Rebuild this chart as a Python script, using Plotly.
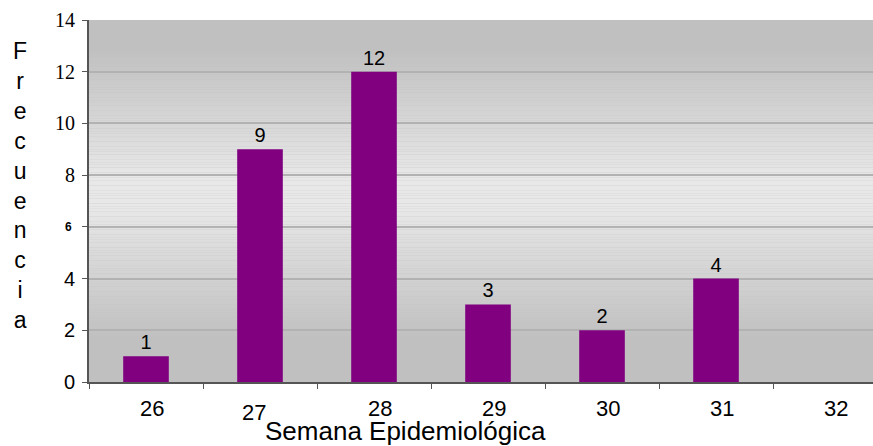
import plotly.graph_objects as go

weeks = ["26", "27", "28", "29", "30", "31", "32"]
counts = [1, 9, 12, 3, 2, 4, None]
y_ticks = [0, 2, 4, 6, 8, 10, 12, 14]
x_title = "Semana Epidemiológica"
y_title = "Frecuencia"

fig = go.Figure()
fig.add_trace(go.Bar(
    x=weeks, y=counts, width=0.40,
    marker=dict(color="#800080", line=dict(width=0)),
    text=[("" if v is None else str(v)) for v in counts],
    textposition="outside", cliponaxis=False,
    textfont=dict(family="Liberation Sans, Arial", size=20, color="#000000"),
    hoverinfo="skip",
))

# background gradient bands (styling only)
shapes = []
n = 140
for i in range(n):
    v0 = 14 * i / n
    v1 = 14 * (i + 1) / n
    vm = (v0 + v1) / 2
    d = abs(vm - 7.3) / 7.0
    f = min(1.0, max(0.0, (d - 0.08) / 0.72))
    g = int(round(232 - 40 * f))
    shapes.append(dict(type="rect", xref="paper", yref="y", x0=0, x1=1, y0=v0, y1=v1,
                       fillcolor=f"rgb({g},{g},{g})", line=dict(width=0), layer="below"))

annotations = []
# y tick labels with mixed fonts as in the original
for v in y_ticks:
    if v >= 8:
        fnt = dict(family="Liberation Serif, Times New Roman", size=20, color="#000")
        xs = -12
    elif v == 6:
        fnt = dict(family="Liberation Sans, Arial", size=12, color="#000", weight="bold")
        xs = -15
    else:
        fnt = dict(family="Liberation Sans, Arial", size=20, color="#000")
        xs = -12
    annotations.append(dict(x=0, xref="paper", y=v, yref="y", text=str(v), showarrow=False,
                            xanchor="right", yanchor="middle", xshift=xs, font=fnt))
# x tick labels (placed at category index on the category axis)
for i, w in enumerate(weeks):
    annotations.append(dict(x=i, xref="x", y=0, yref="paper", text=w, showarrow=False,
                            xanchor="center", yanchor="top",
                            xshift=(-6 if w == "27" else 6),
                            yshift=(-16 if w == "27" else -12),
                            font=dict(family="Liberation Sans, Arial", size=22, color="#000")))
# axis titles
annotations.append(dict(x=(405 - 89) / 784, xref="paper", y=0, yref="paper", text=x_title,
                        showarrow=False, xanchor="center", yanchor="top", yshift=-32,
                        font=dict(family="Liberation Sans, Arial", size=26, color="#000")))
annotations.append(dict(x=(20 - 89) / 784, xref="paper", y=(382 - 185) / 362, yref="paper",
                        text="<br>".join(list(y_title)), showarrow=False,
                        xanchor="center", yanchor="middle",
                        font=dict(family="Liberation Sans, Arial", size=23, color="#000")))

fig.update_layout(
    width=873, height=446,
    margin=dict(l=89, r=0, t=20, b=64),
    paper_bgcolor="white", plot_bgcolor="#c0c0c0",
    showlegend=False, bargap=0.6,
    shapes=shapes, annotations=annotations,
)
fig.update_xaxes(type="category", range=[-0.5, 6.377], showticklabels=False,
                 ticks="outside", tickson="boundaries", ticklen=5, tickcolor="#555",
                 showline=True, linecolor="#555", linewidth=1.5, showgrid=False,
                 fixedrange=True)
fig.update_yaxes(range=[0, 14], tickvals=y_ticks, showticklabels=False,
                 ticks="outside", ticklen=5, tickcolor="#555",
                 showline=True, linecolor="#555", linewidth=1.5,
                 showgrid=True, gridcolor="#b2b2b2", gridwidth=1.5, zeroline=False,
                 fixedrange=True)

fig.write_html("out.html",
               config={"displayModeBar": False},
               post_script="document.body.style.margin='0';document.body.style.overflow='hidden';")
